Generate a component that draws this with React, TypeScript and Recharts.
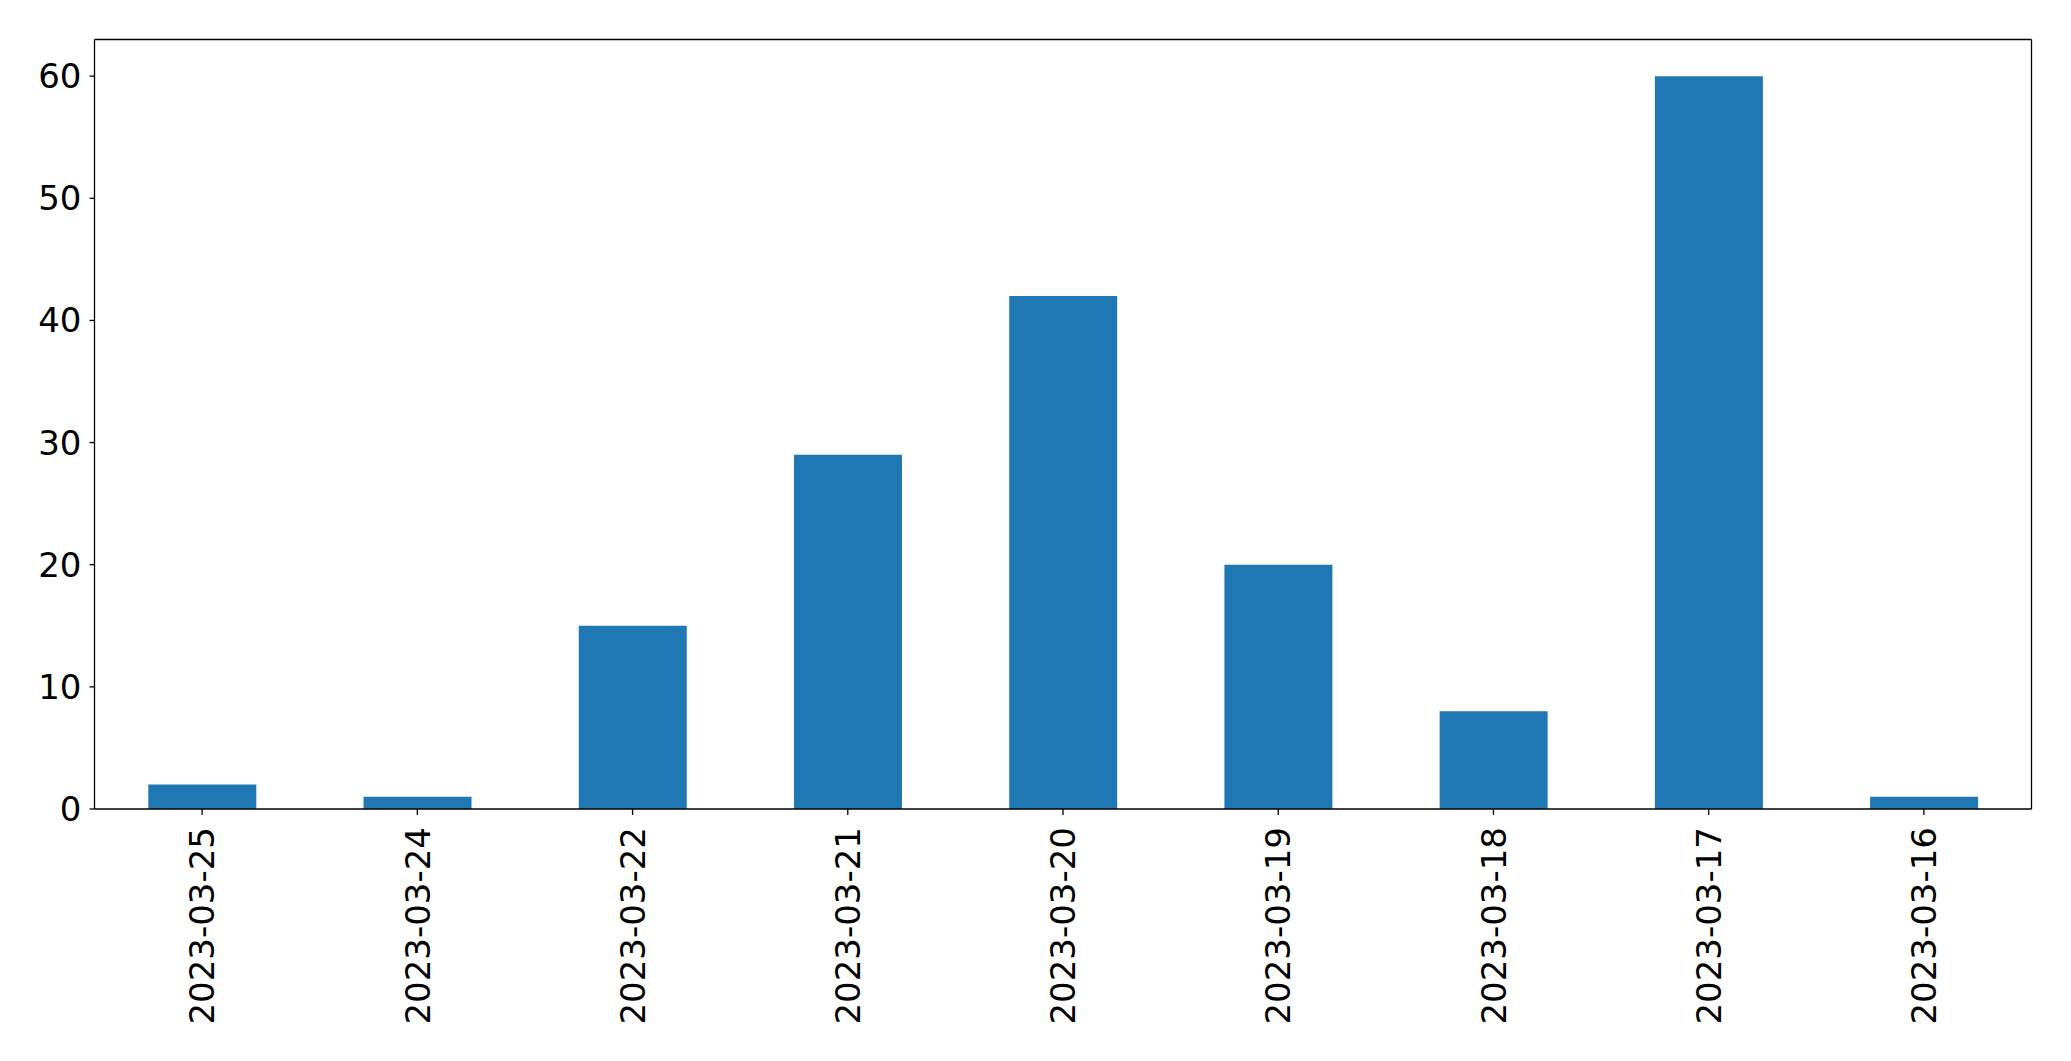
import { BarChart, Bar, XAxis, YAxis } from "recharts";

const dates = [
  "2023-03-25",
  "2023-03-24",
  "2023-03-22",
  "2023-03-21",
  "2023-03-20",
  "2023-03-19",
  "2023-03-18",
  "2023-03-17",
  "2023-03-16",
];
const counts = [2, 1, 15, 29, 42, 20, 8, 60, 1];
const yTicks = [0, 10, 20, 30, 40, 50, 60];

const FONT = "DejaVu Sans";
const LINE = { stroke: "#000", strokeWidth: 1.3 };

// eslint-disable-next-line @typescript-eslint/no-explicit-any
function DateTick({ x, y, payload }: any) {
  return (
    <text
      x={x}
      y={y}
      transform={`rotate(-90, ${x}, ${y})`}
      textAnchor="end"
      dy="0.36em"
      fontSize={34}
      fontFamily={FONT}
      fill="#000"
    >
      {payload.value}
    </text>
  );
}

export default function App() {
  const data = dates.map((d, i) => ({ date: d, count: counts[i] }));

  return (
    <div style={{ position: "absolute", left: 0, top: 0, background: "#fff" }}>
      <BarChart
        width={2071}
        height={1061}
        data={data}
        margin={{ top: 38.5, right: 38.5, bottom: 0, left: 0 }}
        barCategoryGap="25%"
      >
        <XAxis
          dataKey="date"
          height={252}
          interval={0}
          tick={<DateTick />}
          tickSize={6}
          tickMargin={12}
          axisLine={LINE}
          tickLine={LINE}
        />
        <XAxis
          xAxisId="top"
          dataKey="date"
          orientation="top"
          height={1}
          tick={false}
          tickLine={false}
          axisLine={LINE}
        />
        <YAxis
          width={94.5}
          domain={[0, 63]}
          ticks={yTicks}
          interval={0}
          tickSize={5}
          tickMargin={8}
          tick={{ fontSize: 34, fontFamily: FONT, fill: "#000" }}
          axisLine={LINE}
          tickLine={LINE}
        />
        <YAxis
          yAxisId="right"
          orientation="right"
          width={1}
          domain={[0, 63]}
          tick={false}
          tickLine={false}
          axisLine={LINE}
        />
        <Bar dataKey="count" fill="#1f77b4" isAnimationActive={false} />
      </BarChart>
    </div>
  );
}
